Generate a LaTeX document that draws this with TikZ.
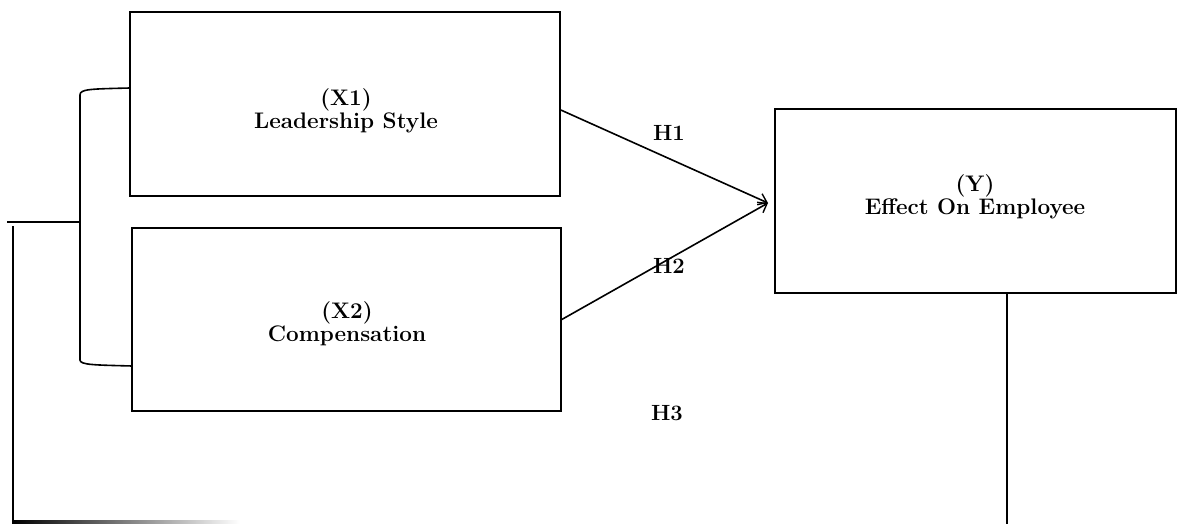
\documentclass[tikz,border=0pt]{standalone}
\usepackage{fontspec}
\usetikzlibrary{arrows.meta}
\begin{document}
\begin{tikzpicture}[x=1pt,y=-1pt,
  box/.style={draw,line width=1.6pt,rectangle,inner sep=0pt},
  btext/.style={align=center,inner sep=0pt,font=\fontsize{22.5}{23}\selectfont\bfseries},
  link/.style={line width=1.6pt},
  arr/.style={line width=1.6pt,-{Straight Barb[length=8pt,width=12pt,line width=1.4pt]}},
  hlab/.style={font=\fontsize{22}{24}\selectfont\bfseries}]
\useasboundingbox (0,0) rectangle (1192,524);
\node[box,minimum width=430pt,minimum height=184pt] (X1) at (345,104) {};
\node[box,minimum width=429pt,minimum height=183pt] (X2) at (346.5,319.5) {};
\node[box,minimum width=401pt,minimum height=184pt] (Y) at (975.5,201) {};
\node[btext] (X1t) at (346,111) {(X1)\\Leadership Style};
\node[btext] (X2t) at (347,324) {(X2)\\Compensation};
\node[btext] (Yt) at (975,197) {(Y)\\Effect On Employee};
\coordinate (tip) at (768,203);
\draw[arr] (X1.east) ++(0,6) coordinate (s1) -- (tip);
\draw[arr] (X2.east) coordinate (s2) -- (tip);
\node[hlab] (H1) at (669,133) {H1};
\node[hlab] (H2) at (669,266) {H2};
\node[hlab] (H3) at (667,413) {H3};
% bracket
\coordinate (bt) at (130,88);
\coordinate (bb) at (132,366);
\coordinate (bm) at (80,222);
\coordinate (lf) at (7,222);
\draw[link] (bt) .. controls (90,89) and (80,89) .. (80,95) -- (80,360) .. controls (80,365) and (95,365) .. (bb);
\draw[link] (bm) -- (lf);
\coordinate (lt) at (13,226);
\coordinate (lb) at (13,524);
\draw[link] (lt) -- (lb);
\shade[left color=black,right color=white] (13,520.5) rectangle (240,523.5);
\coordinate (yb) at (1007,524);
\draw[link] (Y.south -| yb) -- (yb);
\end{tikzpicture}
\end{document}
